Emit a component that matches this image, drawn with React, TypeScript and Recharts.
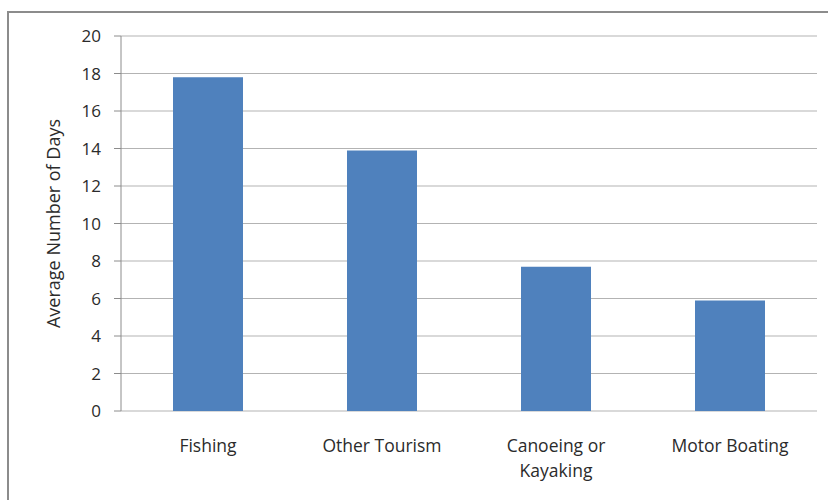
import { Bar, BarChart, CartesianGrid, XAxis, YAxis } from "recharts";

const categories = ["Fishing", "Other Tourism", "Canoeing or Kayaking", "Motor Boating"];
const tickLines: string[][] = [["Fishing"], ["Other Tourism"], ["Canoeing or", "Kayaking"], ["Motor Boating"]];
const averageDays = [17.8, 13.9, 7.7, 5.9];
const yTicks = [0, 2, 4, 6, 8, 10, 12, 14, 16, 18, 20];
const edgeTicks = [0, 1, 2, 3, 4];

const data = categories.map((name, i) => ({ name, days: averageDays[i] }));

const FONT = "'Open Sans', Lato, sans-serif";
const AXIS_GRAY = "#8c8c8c";
const TEXT = "#2b2b2b";

const CategoryTick = ({ x, y, payload }: any) => {
  const idx = categories.indexOf(payload.value);
  const lines = tickLines[idx] ?? [payload.value];
  return (
    <text x={x} y={y} textAnchor="middle" fill={TEXT} fontSize={17.5} fontFamily={FONT}>
      {lines.map((line, i) => (
        <tspan key={i} x={x} dy={i === 0 ? 33 : 25}>
          {line}
        </tspan>
      ))}
    </text>
  );
};

export default function App() {
  return (
    <div style={{ position: "absolute", left: 0, top: 0, width: 828, height: 500, overflow: "hidden", background: "#fff" }}>
      <div
        style={{
          position: "absolute",
          left: 7,
          top: 11,
          width: 840,
          height: 520,
          border: `2px solid ${AXIS_GRAY}`,
        }}
      />
      <div style={{ position: "absolute", left: 0, top: 0 }}>
        <BarChart width={828} height={500} data={data} margin={{ top: 36, right: 11, left: 0, bottom: 0 }}>
          <CartesianGrid horizontal vertical={false} stroke="#b3b3b3" />
          <XAxis
            xAxisId="edges"
            type="number"
            domain={[0, 4]}
            ticks={edgeTicks}
            height={0}
            tick={false}
            tickSize={6}
            stroke={AXIS_GRAY}
            allowDataOverflow
          />
          <XAxis
            dataKey="name"
            height={89}
            axisLine={false}
            tickLine={false}
            interval={0}
            tick={<CategoryTick />}
          />
          <YAxis
            domain={[0, 20]}
            ticks={yTicks}
            width={121}
            tickSize={7}
            tickMargin={13}
            stroke={AXIS_GRAY}
            tick={{ fill: TEXT, fontSize: 17, fontFamily: FONT }}
            label={{
              value: "Average Number of Days",
              angle: -90,
              position: "center",
              dx: -7,
              fill: TEXT,
              fontSize: 18,
              fontFamily: FONT,
            }}
          />
          <Bar dataKey="days" fill="#4f81bd" barSize={70} isAnimationActive={false} />
        </BarChart>
      </div>
    </div>
  );
}
